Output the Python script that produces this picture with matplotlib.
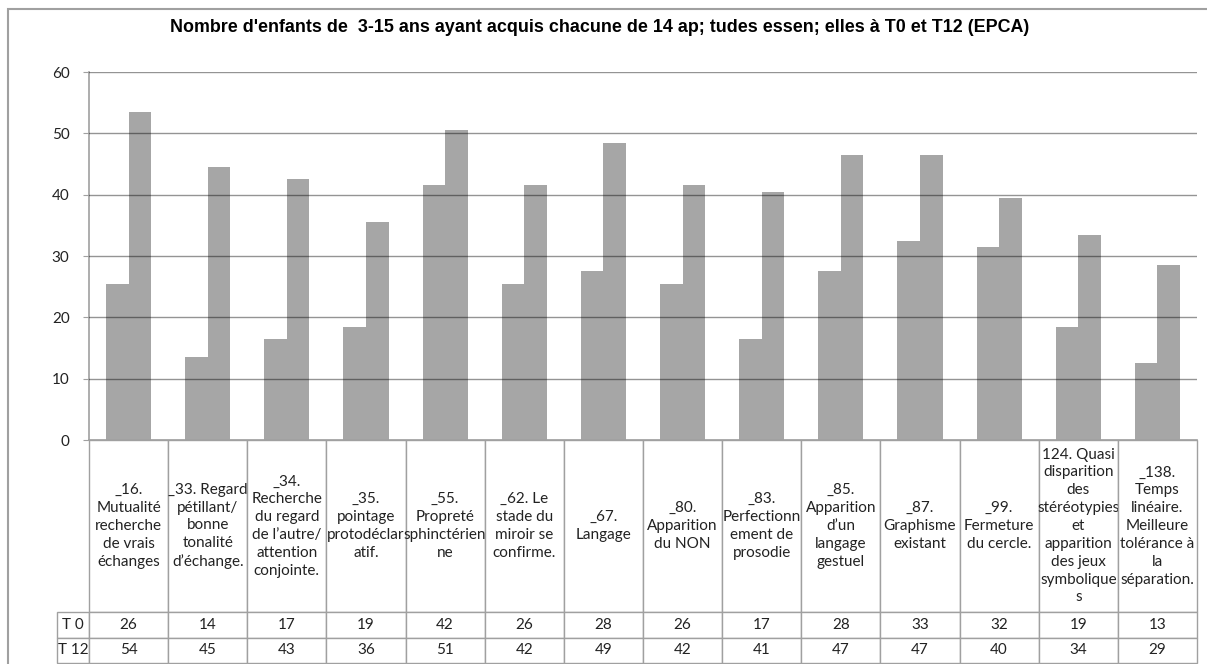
import matplotlib
matplotlib.use('Agg')
import matplotlib.pyplot as plt
from matplotlib.patches import Rectangle
import numpy as np

categories = [
    "_16.\nMutualité\nrecherche\nde vrais\néchanges",
    "_33. Regard\npétillant/\nbonne\ntonalité\nd’échange.",
    "_34.\nRecherche\ndu regard\nde l’autre/\nattention\nconjointe.",
    "_35.\npointage\nprotodéclar\natif.",
    "_55.\nPropreté\nsphinctérien\nne",
    "_62. Le\nstade du\nmiroir se\nconfirme.",
    "_67.\nLangage",
    "_80.\nApparition\ndu NON",
    "_83.\nPerfectionn\nement de\nprosodie",
    "_85.\nApparition\nd’un\nlangage\ngestuel",
    "_87.\nGraphisme\nexistant",
    "_99.\nFermeture\ndu cercle.",
    "124. Quasi\ndisparition\ndes\nstéréotypies\net\napparition\ndes jeux\nsymbolique\ns",
    "_138.\nTemps\nlinéaire.\nMeilleure\ntolérance à\nla\nséparation.",
]
t0 = [25.5, 13.5, 16.5, 18.5, 41.5, 25.5, 27.5, 25.5, 16.5, 27.5, 32.5, 31.5, 18.5, 12.5]
t12 = [53.5, 44.5, 42.5, 35.5, 50.5, 41.5, 48.5, 41.5, 40.5, 46.5, 46.5, 39.5, 33.5, 28.5]
row_labels = ["T 0", "T 12"]
yticks = [0, 10, 20, 30, 40, 50, 60]

title = "Nombre d'enfants de  3-15 ans ayant acquis chacune de 14 ap; tudes essen; elles à T0 et T12 (EPCA)"

plt.rcParams['font.family'] = ['Lato', 'DejaVu Sans']

W, H = 1207, 664
fig = plt.figure(figsize=(W / 100, H / 100), dpi=100)

# outer frame of the chart object
fig.patches.append(Rectangle((8 / W, -0.05), 1.2, (H - 9) / H + 0.05,
                             transform=fig.transFigure, fill=False,
                             edgecolor='#a0a0a0', lw=1.5))

fig.text(600 / W, 1 - 27 / H, title, ha='center', va='center',
         fontsize=12.9, fontweight='bold',
         family=['Liberation Sans', 'DejaVu Sans'])

x0, x1, ytop, ybot = 89, 1197, 72, 440
aw, ah = x1 - x0, ybot - ytop
ax = fig.add_axes([x0 / W, 1 - ybot / H, aw / W, ah / H])

n = len(categories)
x = np.arange(n) + 0.5
bw = 0.285
ax.bar(x - bw / 2, t0, bw, color='#a6a6a6', zorder=1)
ax.bar(x + bw / 2, t12, bw, color='#a6a6a6', zorder=1)

ax.set_xlim(0, n)
ax.set_ylim(0, 60)
ax.set_yticks(yticks)
ax.set_xticks([])
for v in yticks[1:]:
    ax.axhline(v, color='black', alpha=0.42, lw=1, zorder=3)

for s in ['top', 'right']:
    ax.spines[s].set_visible(False)
for s in ['left', 'bottom']:
    ax.spines[s].set_color('#a0a0a0')
    ax.spines[s].set_linewidth(1.2)
ax.tick_params(axis='y', length=4, color='#a0a0a0', labelsize=11,
               labelcolor='#222222', pad=10)

# data table under the axis (bbox covers the grid, row labels hang left)
cell_text = [[str(int(np.floor(v + 0.5))) for v in t0],
             [str(int(np.floor(v + 0.5))) for v in t12]]
head_h, row_h, lab_w = 172, 25.5, 49
tab_h = (head_h + 2 * row_h) / ah
tab = ax.table(cellText=cell_text, rowLabels=row_labels, colLabels=categories,
               cellLoc='center', rowLoc='center',
               bbox=[0, -tab_h, 1, tab_h])
tab.auto_set_font_size(False)
tab.set_fontsize(11)
for (r, c), cell in tab.get_celld().items():
    cell.set_edgecolor('#a0a0a0')
    cell.set_linewidth(1)
    cell.set_width(lab_w / aw if c == -1 else 1 / n)
    cell.set_height((head_h if r == 0 else row_h) / ah)
    cell.PAD = 0.02
    cell.get_text().set_linespacing(1.35)
    cell.get_text().set_color('#222222')

fig.savefig('out.png', dpi=100)
